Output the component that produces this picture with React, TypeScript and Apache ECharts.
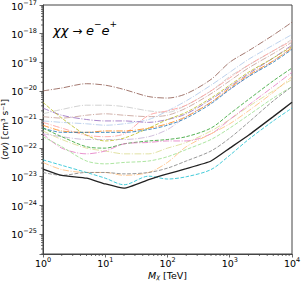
import React, { useEffect, useRef } from 'react';
import * as echarts from 'echarts';

// Dark-matter mass (TeV)
const masses = [1, 2, 5, 10, 20, 50, 100, 200, 500, 1000, 2000, 5000, 10000];

// <sigma v> upper limits (cm^3 s^-1)
const brownLimit = [1.0e-20, 1.26e-20, 1.78e-20, 1.58e-20, 1.12e-20, 6.31e-21, 5.62e-21, 7.94e-21, 2.51e-20, 1.0e-19, 2.51e-19, 8.91e-19, 2.51e-18];
const lightGrayLimit = [1.58e-21, 2.24e-21, 3.16e-21, 3.16e-21, 2.82e-21, 2.0e-21, 1.78e-21, 3.16e-21, 1.0e-20, 3.16e-20, 7.94e-20, 2.51e-19, 6.31e-19];
const lightBlueLimit = [8.91e-22, 7.94e-22, 7.08e-22, 6.31e-22, 7.08e-22, 1.0e-21, 2.0e-21, 4.47e-21, 1.58e-20, 4.47e-20, 1.26e-19, 3.98e-19, 9.33e-19];
const purpleLimit = [2.51e-21, 1.41e-21, 1.0e-21, 8.91e-22, 8.91e-22, 7.94e-22, 1.0e-21, 1.58e-21, 5.01e-21, 1.41e-20, 3.98e-20, 1.41e-19, 3.98e-19];
const oliveLimit = [3.98e-21, 1.12e-21, 2.82e-22, 1.78e-22, 2.24e-22, 5.01e-22, 1.0e-21, 1.78e-21, 5.62e-21, 1.58e-20, 4.47e-20, 1.41e-19, 3.55e-19];
const orangeLimit = [6.31e-22, 3.98e-22, 3.55e-22, 3.98e-22, 3.98e-22, 5.01e-22, 7.08e-22, 1.26e-21, 3.98e-21, 1.26e-20, 3.55e-20, 1.12e-19, 3.16e-19];
const blueLimit = [5.01e-22, 3.55e-22, 3.55e-22, 3.55e-22, 3.55e-22, 4.47e-22, 6.31e-22, 1.12e-21, 3.55e-21, 1.12e-20, 3.16e-20, 1.0e-19, 2.82e-19];
const salmonLimit = [7.94e-22, 5.01e-22, 2.82e-22, 2.51e-22, 3.16e-22, 1.41e-21, 2.0e-21, 3.16e-21, 1.0e-20, 2.82e-20, 7.94e-20, 2.51e-19, 5.62e-19];
const greenLimit = [5.01e-22, 2.51e-22, 1.12e-22, 1.0e-22, 1.41e-22, 1.78e-22, 2.0e-22, 2.51e-22, 5.01e-22, 1.58e-21, 5.01e-21, 2.24e-20, 6.31e-20];
const pinkLimit = [3.16e-22, 1.0e-22, 6.31e-23, 7.94e-23, 1.41e-22, 1.58e-22, 1.78e-22, 1.78e-22, 3.16e-22, 1.0e-21, 3.16e-21, 1.41e-20, 4.47e-20];
const peachLimit = [3.16e-23, 1.78e-23, 1.41e-23, 1.41e-23, 1.12e-23, 1.41e-23, 3.16e-23, 1.12e-22, 3.16e-22, 7.08e-22, 2.0e-21, 8.91e-21, 3.16e-20];
const grayLimit = [1.41e-23, 1.12e-23, 1.41e-23, 1.41e-23, 1.26e-23, 1.41e-23, 2.0e-23, 3.55e-23, 7.94e-23, 2.24e-22, 7.94e-22, 4.47e-21, 1.41e-20];
const lightGreenLimit = [2.51e-22, 1.12e-22, 3.55e-23, 2.82e-23, 3.16e-23, 3.55e-23, 5.01e-23, 8.91e-23, 2.0e-22, 5.01e-22, 1.41e-21, 5.62e-21, 1.41e-20];
const khakiLimit = [3.98e-22, 2.0e-22, 1.0e-22, 7.94e-23, 6.31e-23, 6.31e-23, 1.0e-22, 1.58e-22, 3.98e-22, 1.0e-21, 2.82e-21, 1.0e-20, 2.51e-20];
const lavenderLimit = [3.16e-22, 2.51e-22, 2.0e-22, 2.0e-22, 2.0e-22, 2.51e-22, 4.47e-22, 1.26e-21, 3.98e-21, 1.12e-20, 3.16e-20, 1.12e-19, 3.16e-19];
const lightBrownLimit = [1.26e-21, 1.12e-21, 1.41e-21, 1.58e-21, 1.41e-21, 1.26e-21, 1.41e-21, 2.51e-21, 7.94e-21, 2.24e-20, 6.31e-20, 2.0e-19, 5.01e-19];
const cyanLimit = [3.89e-23, 2.51e-23, 1.41e-23, 8.91e-24, 5.25e-24, 1.05e-23, 8.32e-24, 1.0e-23, 1.78e-23, 5.62e-23, 2.0e-22, 8.91e-22, 2.51e-21];
const combinedLimit = [1.86e-23, 1.12e-23, 8.91e-24, 5.62e-24, 3.98e-24, 7.94e-24, 1.26e-23, 1.91e-23, 3.55e-23, 1.0e-22, 2.82e-22, 1.26e-21, 3.98e-21];

const xTickExponents = [0, 1, 2, 3, 4];
const yTickExponents = [-25, -24, -23, -22, -21, -20, -19, -18, -17];

const X_MIN = 1;
const X_MAX = 10000;
const Y_MIN = 2e-26;
const Y_MAX = 1e-17;
// ECharts' log scale cannot handle values this small: plot in units of 1e-26 cm^3 s^-1
const Y_UNIT_EXP = -26;
const toUnit = (v: number) => v * Math.pow(10, -Y_UNIT_EXP);

const DASH = [3.7, 1.6];
const DASHDOT = [6.4, 1.6, 1, 1.6];
const FONT = 'DejaVu Sans';
const AXIS_COLOR = '#444';

const lineDefs: { data: number[]; color: string; dash: number[] }[] = [
  { data: brownLimit, color: '#8c564b', dash: DASHDOT },
  { data: lightGrayLimit, color: '#c7c7c7', dash: DASHDOT },
  { data: lightBlueLimit, color: '#aec7e8', dash: DASHDOT },
  { data: lightBrownLimit, color: '#c49c94', dash: DASHDOT },
  { data: purpleLimit, color: '#9467bd', dash: DASHDOT },
  { data: salmonLimit, color: '#ff9896', dash: DASHDOT },
  { data: oliveLimit, color: '#bcbd22', dash: DASH },
  { data: lavenderLimit, color: '#c5b0d5', dash: DASHDOT },
  { data: orangeLimit, color: '#ff7f0e', dash: DASHDOT },
  { data: blueLimit, color: '#1f77b4', dash: DASH },
  { data: khakiLimit, color: '#dbdb8d', dash: DASHDOT },
  { data: greenLimit, color: '#2ca02c', dash: DASH },
  { data: pinkLimit, color: '#e377c2', dash: DASHDOT },
  { data: lightGreenLimit, color: '#98df8a', dash: DASH },
  { data: peachLimit, color: '#ffbb78', dash: DASHDOT },
  { data: grayLimit, color: '#7f7f7f', dash: DASH },
  { data: cyanLimit, color: '#17becf', dash: DASH },
];

function powLabel(exp: number) {
  const s = exp < 0 ? '\u2212' + String(-exp) : String(exp);
  return '{b|10}{s|' + s + '}';
}

const labelRich = {
  b: { fontSize: 9.5, fontFamily: FONT, color: '#000', lineHeight: 12, verticalAlign: 'bottom' },
  s: { fontSize: 6.5, fontFamily: FONT, color: '#000', lineHeight: 12, verticalAlign: 'top' },
};

export default function App() {
  const ref = useRef<HTMLDivElement>(null);
  useEffect(() => {
    document.body.style.margin = '0';
    if (!ref.current) return;
    const chart = echarts.init(ref.current, null, { renderer: 'svg' });

    const xMinor: number[][] = [];
    for (let e = 0; e < 4; e++) for (let k = 2; k <= 9; k++) xMinor.push([k * Math.pow(10, e), toUnit(Y_MIN)]);
    const yMinor: number[][] = [];
    for (let e = 0; e < 9; e++)
      for (let k = 2; k <= 9; k++) {
        const v = k * Math.pow(10, e);
        if (v > 1.99) yMinor.push([X_MIN, v]);
      }

    const series: any[] = lineDefs.map((d) => ({
      type: 'line',
      data: masses.map((m, i) => [m, toUnit(d.data[i])]),
      showSymbol: false,
      symbol: 'none',
      smooth: 0.3,
      lineStyle: { color: d.color, width: 1, type: d.dash, opacity: 0.8 },
      silent: true,
    }));
    series.push({
      type: 'line',
      data: masses.map((m, i) => [m, toUnit(combinedLimit[i])]),
      showSymbol: false,
      symbol: 'none',
      smooth: 0.15,
      lineStyle: { color: '#222', width: 1.3, type: 'solid' },
      z: 5,
      silent: true,
    });
    series.push({
      type: 'custom',
      data: xMinor,
      silent: true,
      clip: false,
      renderItem: (_p: any, api: any) => {
        const pt = api.coord([api.value(0), api.value(1)]);
        return { type: 'line', shape: { x1: pt[0], y1: pt[1], x2: pt[0], y2: pt[1] + 2 }, style: { stroke: AXIS_COLOR, lineWidth: 0.8 } };
      },
    });
    series.push({
      type: 'custom',
      data: yMinor,
      silent: true,
      clip: false,
      renderItem: (_p: any, api: any) => {
        const pt = api.coord([api.value(0), api.value(1)]);
        return { type: 'line', shape: { x1: pt[0] - 2, y1: pt[1], x2: pt[0], y2: pt[1] }, style: { stroke: AXIS_COLOR, lineWidth: 0.8 } };
      },
    });

    const axisLine = { show: true, lineStyle: { color: AXIS_COLOR, width: 1 } };
    const axisTick = { show: true, inside: false, length: 3.5, lineStyle: { color: AXIS_COLOR, width: 0.8 } };

    chart.setOption({
      animation: false,
      backgroundColor: '#fff',
      grid: {
        left: 43, right: 12, top: 5, bottom: 28,
        containLabel: false, outerBoundsMode: 'none',
        show: true, borderColor: AXIS_COLOR, borderWidth: 1, backgroundColor: 'transparent',
      },
      xAxis: {
        type: 'log',
        min: X_MIN,
        max: X_MAX,
        logBase: 10,
        splitNumber: 4,
        axisLine,
        axisTick,
        splitLine: { show: false },
        axisLabel: {
          margin: 2,
          showMinLabel: true,
          showMaxLabel: true,
          hideOverlap: false,
          formatter: (v: number) => {
            const l = Math.log10(v);
            const e = Math.round(l);
            if (Math.abs(l - e) > 0.01 || !xTickExponents.includes(e)) return '';
            return powLabel(e);
          },
          rich: labelRich,
        },
        name: '{i|M}{sub|\u03c7}{n| [TeV]}',
        nameLocation: 'middle',
        nameGap: 14,
        nameMoveOverlap: false,
        nameTextStyle: {
          verticalAlign: 'top',
          rich: {
            i: { fontSize: 9.5, fontFamily: FONT, fontStyle: 'italic', color: '#000', lineHeight: 12, verticalAlign: 'bottom' },
            sub: { fontSize: 6.5, fontFamily: FONT, fontStyle: 'italic', color: '#000', lineHeight: 12, verticalAlign: 'bottom' },
            n: { fontSize: 9.5, fontFamily: FONT, color: '#000', lineHeight: 12, verticalAlign: 'bottom' },
          },
        },
      },
      yAxis: {
        type: 'log',
        min: toUnit(Y_MIN),
        max: toUnit(Y_MAX),
        logBase: 10,
        splitNumber: 9,
        axisLine,
        axisTick,
        splitLine: { show: false },
        axisLabel: {
          margin: 6,
          showMinLabel: true,
          showMaxLabel: true,
          hideOverlap: false,
          formatter: (v: number) => {
            const l = Math.log10(v);
            const e = Math.round(l);
            const realExp = e + Y_UNIT_EXP;
            if (Math.abs(l - e) > 0.01 || !yTickExponents.includes(realExp)) return '';
            return powLabel(realExp);
          },
          rich: labelRich,
        },
        name: '{n|\u27e8}{i|\u03c3v}{n|\u27e9 [cm\u00b3 s\u207b\u00b9]}',
        nameLocation: 'middle',
        nameGap: 34,
        nameRotate: 90,
        nameMoveOverlap: false,
        nameTextStyle: {
          rich: {
            n: { fontSize: 9, fontFamily: FONT, color: '#000' },
            i: { fontSize: 9, fontFamily: FONT, fontStyle: 'italic', color: '#000' },
          },
        },
      },
      graphic: [
        {
          type: 'text',
          left: 53,
          top: 19,
          style: {
            text: '{i|\u03c7\u03c7}{n| \u2192 }{i|e}{s|\u2212}{i|e}{s|+}',
            rich: {
              i: { fontSize: 13, fontFamily: FONT, fontStyle: 'italic', fill: '#000', lineHeight: 18, verticalAlign: 'bottom' },
              n: { fontSize: 12, fontFamily: FONT, fill: '#000', lineHeight: 18, verticalAlign: 'bottom' },
              s: { fontSize: 9, fontFamily: FONT, fill: '#000', lineHeight: 18, verticalAlign: 'top' },
            },
          },
        },
      ],
      series,
    });
    return () => chart.dispose();
  }, []);
  return <div ref={ref} style={{ width: 304, height: 282 }} />;
}
